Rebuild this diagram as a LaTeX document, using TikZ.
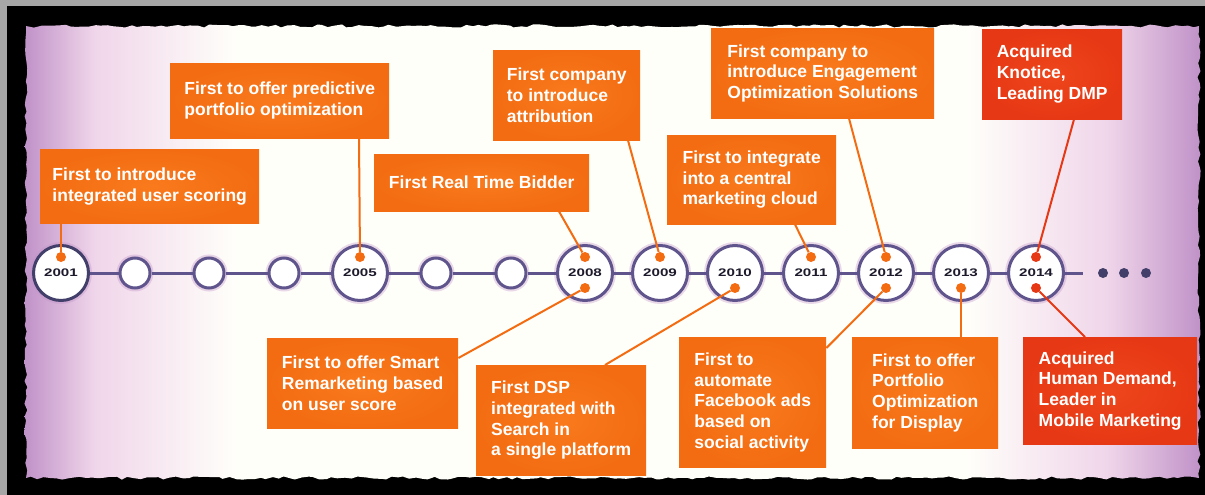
\documentclass[tikz,border=0pt]{standalone}
\usepackage{fontspec}
\setmainfont{Liberation Sans}
\newfontfamily\yearfont{Liberation Sans}[FakeStretch=1.38]
\usetikzlibrary{calc, decorations.pathmorphing}

\definecolor{boxorange}{RGB}{243,108,18}
\definecolor{boxorangelight}{RGB}{249,122,28}
\definecolor{boxred}{RGB}{230,56,20}
\definecolor{boxredlight}{RGB}{238,70,28}
\definecolor{ringblue}{RGB}{96,84,140}
\definecolor{ringdark}{RGB}{66,64,106}
\definecolor{yeartext}{RGB}{30,26,44}
\definecolor{panelpurple}{RGB}{192,146,200}
\definecolor{panelpink}{RGB}{240,214,234}
\definecolor{panelwhite}{RGB}{255,255,250}

\pgfdeclarehorizontalshading{panelshade}{100bp}{color(0bp)=(panelpurple); color(25bp)=(panelpurple); color(28bp)=(panelpink); color(34bp)=(panelwhite); color(65bp)=(panelwhite); color(71bp)=(panelpink); color(75bp)=(panelpurple); color(100bp)=(panelpurple)}

\tikzset{
  event/.style={rectangle, inner color=boxorangelight, outer color=boxorange, anchor=north west, align=left, text=white, inner sep=0pt, font=\fontsize{17.5}{20.7}\selectfont\bfseries},
  eventred/.style={event, inner color=boxredlight, outer color=boxred},
  bigyear/.style={circle, draw=ringblue, line width=3pt, fill=white, minimum size=55pt, inner sep=0pt, text=yeartext, font=\yearfont\fontsize{11}{11}\selectfont\bfseries, preaction={draw=panelpurple, line width=7pt, opacity=0.35}},
  smallyear/.style={circle, draw=ringblue, line width=3pt, fill=white, minimum size=30pt, inner sep=0pt, preaction={draw=panelpurple, line width=7pt, opacity=0.35}},
  pindot/.style={circle, fill=boxorange, minimum size=10pt, inner sep=0pt},
  pindotred/.style={pindot, fill=boxred},
  moredot/.style={circle, fill=ringdark, minimum size=10pt, inner sep=0pt},
  timeline/.style={draw=ringblue, line width=3pt},
  leader/.style={draw=boxorange, line width=2pt},
  leaderred/.style={leader, draw=boxred}
}

\begin{document}
\begin{tikzpicture}[x=1pt, y=-1pt]
\useasboundingbox (0,0) rectangle (1205,495);

% Frame and torn paper
\fill[black] (0,0) rectangle (1205,495);
\fill[gray!70] (0,0) rectangle (1205,6);
\fill[gray!70] (0,0) rectangle (7,495);
\pgfmathsetseed{11}
\shade[shading=panelshade, decorate, decoration={random steps, segment length=6pt, amplitude=1.6pt}] (26,26) rectangle (1199,478);

% Timeline
\node[bigyear, draw=ringdark] (y2001) at (61,273) {2001};
\node[smallyear] (y2002) at (135,273) {};
\node[smallyear] (y2003) at (209,273) {};
\node[smallyear] (y2004) at (284,273) {};
\node[bigyear] (y2005) at (360,273) {2005};
\node[smallyear] (y2006) at (436,273) {};
\node[smallyear] (y2007) at (511,273) {};
\node[bigyear] (y2008) at (585,273) {2008};
\node[bigyear] (y2009) at (660,273) {2009};
\node[bigyear] (y2010) at (735,273) {2010};
\node[bigyear] (y2011) at (811,273) {2011};
\node[bigyear] (y2012) at (886,273) {2012};
\node[bigyear] (y2013) at (961,273) {2013};
\node[bigyear] (y2014) at (1036,273) {2014};
\coordinate (tlend) at (1083,273);

\draw[timeline] (y2001) -- (y2002);
\draw[timeline] (y2002) -- (y2003);
\draw[timeline] (y2003) -- (y2004);
\draw[timeline] (y2004) -- (y2005);
\draw[timeline] (y2005) -- (y2006);
\draw[timeline] (y2006) -- (y2007);
\draw[timeline] (y2007) -- (y2008);
\draw[timeline] (y2008) -- (y2009);
\draw[timeline] (y2009) -- (y2010);
\draw[timeline] (y2010) -- (y2011);
\draw[timeline] (y2011) -- (y2012);
\draw[timeline] (y2012) -- (y2013);
\draw[timeline] (y2013) -- (y2014);
\draw[timeline] (y2014) -- (tlend);

% More to come
\node[moredot] (more1) at (1103,273) {};
\node[moredot] (more2) at (1124,273) {};
\node[moredot] (more3) at (1146,273) {};

% Pins
\node[pindot] (t2001) at (61,257) {};
\node[pindot] (t2005) at (360,257) {};
\node[pindot] (t2008) at (585,257) {};
\node[pindot] (t2009) at (660,257) {};
\node[pindot] (t2011) at (811,257) {};
\node[pindot] (t2012) at (886,257) {};
\node[pindotred] (t2014) at (1036,257) {};
\node[pindot] (b2008) at (585,288) {};
\node[pindot] (b2010) at (735,288) {};
\node[pindot] (b2012) at (886,288) {};
\node[pindot] (b2013) at (961,288) {};
\node[pindotred] (b2014) at (1036,288) {};

% Events above
\node[event, minimum width=219pt, minimum height=74pt] (scoring) at (40,149) {First to introduce\\integrated user scoring};
\node[event, minimum width=219pt, minimum height=75pt] (predictive) at (170,63) {First to offer predictive\\portfolio optimization};
\node[event, minimum width=215pt, minimum height=57pt] (bidder) at (374,154) {First Real Time Bidder};
\node[event, minimum width=147pt, minimum height=90pt] (attribution) at (493,50) {First company\\to introduce\\attribution};
\node[event, minimum width=223pt, minimum height=90pt] (engagement) at (711,28) {First company to\\introduce Engagement\\Optimization Solutions};
\node[event, minimum width=169pt, minimum height=89pt] (cloud) at (667,135) {First to integrate\\into a central\\marketing cloud};
\node[eventred, minimum width=140pt, minimum height=90pt] (knotice) at (982,29) {Acquired\\Knotice,\\Leading DMP};

% Events below
\node[event, minimum width=191pt, minimum height=90pt] (remarketing) at (267,338) {First to offer Smart\\Remarketing based\\on user score};
\node[event, minimum width=170pt, minimum height=110pt] (dsp) at (476,365) {First DSP\\integrated with\\Search in\\a single platform};
\node[event, minimum width=147pt, minimum height=130pt] (facebook) at (679,337) {First to\\automate\\Facebook ads\\based on\\social activity};
\node[event, minimum width=146pt, minimum height=111pt] (display) at (852,337) {First to offer\\Portfolio\\Optimization\\for Display};
\node[eventred, minimum width=174pt, minimum height=107pt] (humandemand) at (1023,337) {Acquired\\Human Demand,\\Leader in\\Mobile Marketing};

% Leaders
\draw[leader] ([xshift=21pt]scoring.south west) -- (t2001);
\draw[leader] ([xshift=189pt]predictive.south west) -- (t2005);
\draw[leader] ([xshift=185pt]bidder.south west) -- (t2008);
\draw[leader] ([xshift=135pt]attribution.south west) -- (t2009);
\draw[leader] ([xshift=138pt]engagement.south west) -- (t2012);
\draw[leader] ([xshift=128pt]cloud.south west) -- (t2011);
\draw[leaderred] ([xshift=92pt]knotice.south west) -- (t2014);
\draw[leader] ([yshift=-20pt]remarketing.north east) -- (b2008);
\draw[leader] ([xshift=129pt]dsp.north west) -- (b2010);
\draw[leader] ([yshift=-11pt]facebook.north east) -- (b2012);
\draw[leader] ([xshift=109pt]display.north west) -- (b2013);
\draw[leaderred] ([xshift=62pt]humandemand.north west) -- (b2014);

\end{tikzpicture}
\end{document}
